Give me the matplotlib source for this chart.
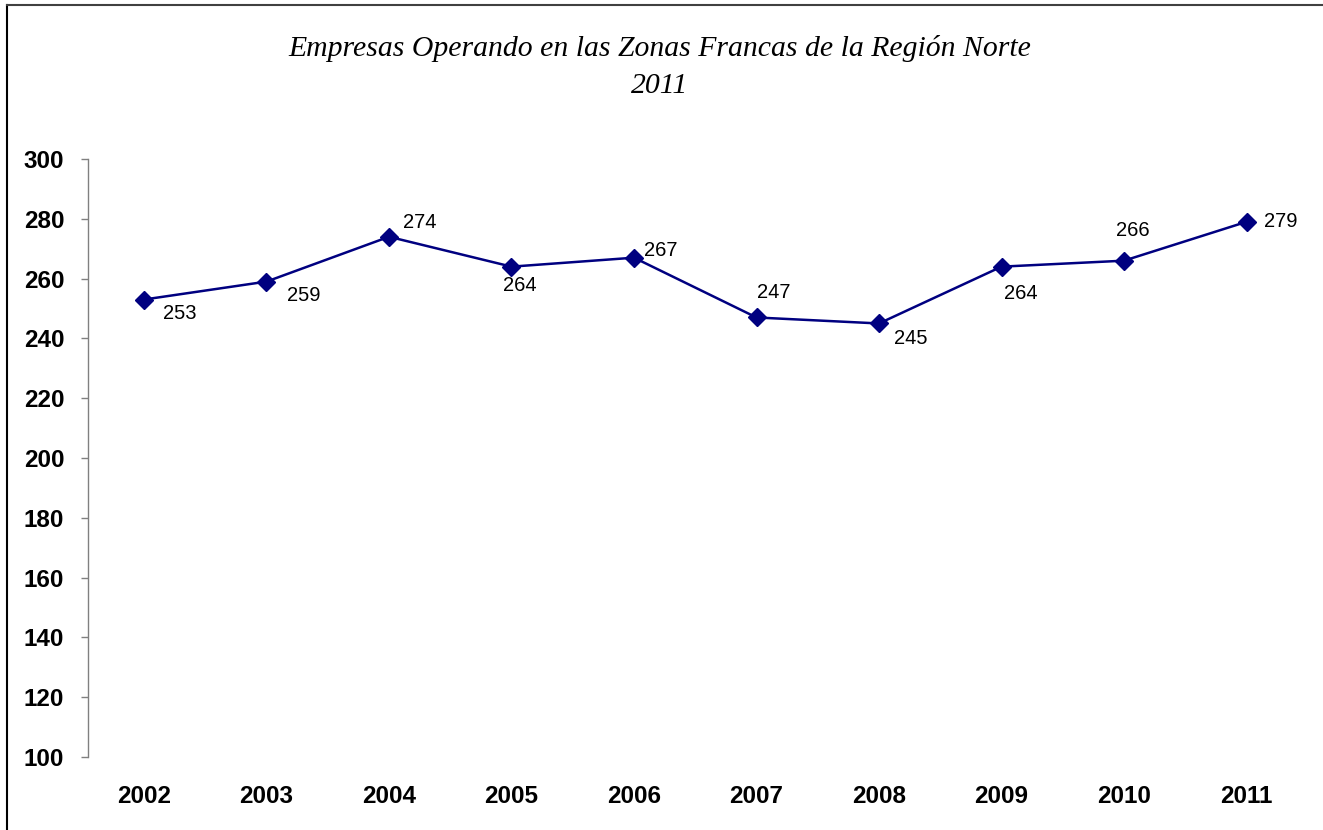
import matplotlib
matplotlib.use("Agg")
import matplotlib.pyplot as plt
from matplotlib.lines import Line2D

# Datos
anios = ['2002', '2003', '2004', '2005', '2006', '2007', '2008', '2009', '2010', '2011']
empresas = [253, 259, 274, 264, 267, 247, 245, 264, 266, 279]
# desplazamiento de cada etiqueta (pixeles, x a la derecha, y hacia arriba)
offsets = [(36, -14), (37, -14), (31, 14), (8, -19), (27, 7),
           (17, 25), (32, -15), (19, -27), (9, 30), (34, 0)]
yticks = list(range(100, 301, 20))

fig = plt.figure(figsize=(13.23, 8.3), dpi=100)
ax = fig.add_axes([0.0665, 0.088, 0.922, 0.7204])

x = list(range(len(anios)))
ax.plot(x, empresas, color='#000080', linewidth=1.8, marker='D',
        markersize=9.5, markerfacecolor='#000080', markeredgecolor='#000080')

for xi, v, (dx, dy) in zip(x, empresas, offsets):
    ax.annotate(str(v), xy=(xi, v), xytext=(dx, dy), textcoords='offset pixels',
                ha='center', va='center', fontsize=14.5, family='Liberation Sans')

ax.set_xlim(-0.457, 9.5)
ax.set_ylim(100, 300)
ax.set_yticks(yticks)
ax.set_xticks(x)
ax.set_xticklabels(anios)

for lab in ax.get_yticklabels() + ax.get_xticklabels():
    lab.set_family('Liberation Sans')
    lab.set_fontweight('bold')
    lab.set_fontsize(17.5)

ax.tick_params(axis='y', direction='out', length=5, width=1, color='#808080', pad=12)
ax.tick_params(axis='x', length=0, pad=20)

for s in ['top', 'right', 'bottom']:
    ax.spines[s].set_visible(False)
ax.spines['left'].set_color('#808080')
ax.spines['left'].set_linewidth(1)

fig.text(0.4985, 0.942, 'Empresas Operando en las Zonas Francas de la Región Norte',
         ha='center', va='center', fontsize=21.4, style='italic', family='Liberation Serif')
fig.text(0.4985, 0.896, '2011', ha='center', va='center', fontsize=21.4,
         style='italic', family='Liberation Serif')

# borde del grafico (solo arriba e izquierda visibles)
fig.add_artist(Line2D([0.0053, 0.0053], [0, 0.9935], transform=fig.transFigure,
                      color='black', linewidth=1.5))
fig.add_artist(Line2D([0.0053, 1], [0.9935, 0.9935], transform=fig.transFigure,
                      color='#404040', linewidth=1.5))

fig.savefig('out.png', dpi=100)
